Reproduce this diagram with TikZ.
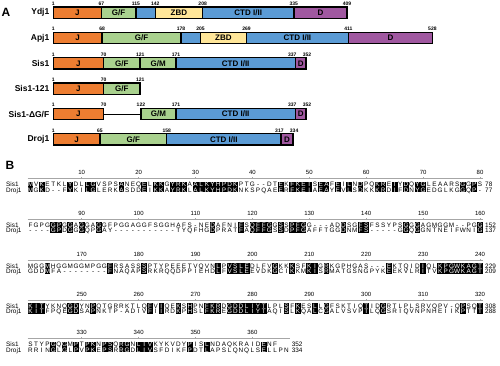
\documentclass[tikz,border=0pt]{standalone}
\usepackage{fontspec}
\setmainfont{Liberation Sans}
\usepackage{xstring}
\usetikzlibrary{calc}

\definecolor{jorange}{RGB}{237,125,49}
\definecolor{gfgreen}{RGB}{169,209,142}
\definecolor{zbdyellow}{RGB}{255,230,153}
\definecolor{ctdblue}{RGB}{91,155,213}
\definecolor{dpurple}{RGB}{160,88,160}

% one domain box: from, to, colour, label, row y
\newcommand{\domain}[5]{%
  \draw[dombox,fill=#3] ({53.3+0.718*#1},#5-5.75) rectangle ({53.3+0.718*#2},#5+5.75);
  \node[domlabel] at ({53.3+0.718*(#1+#2)/2},#5) {#4};%
}
% residue number above a boundary
\newcommand{\resnum}[3][0]{%
  \node[numlabel] at ({53.3+0.718*#2+#1},#3-9) {#2};%
}
% one alignment block: y, offset, columns, Sis1, Droj1, Sis1 end, Droj1 end
\def\gapchar{-}
\newcommand{\alnblock}[7]{%
  \draw[rulerline] (27.5,#1-6) -- ({33.5+(#3-1)*5.69},#1-6);
  \foreach \j in {10,20,...,#3} {
    \draw[rulerline] ({30.5+(\j-1)*5.69},#1-6) -- ++(0,-1.5);
    \pgfmathtruncatemacro{\lab}{#2+\j}
    \node[rulernum] at ({30.5+(\j-1)*5.69},#1-12) {\lab};
  }
  \node[seqname] at (6,#1) {Sis1};
  \node[seqname] at (6,#1+5.3) {Droj1};
  \foreach \c in {1,...,#3} {
    \StrChar{#4}{\c}[\ca]
    \StrChar{#5}{\c}[\cb]
    \pgfmathsetmacro{\cx}{30.5+(\c-1)*5.69}
    \def\hl{0}
    \ifx\ca\cb\ifx\ca\gapchar\else\def\hl{1}\fi\fi
    \ifnum\hl=1
      \fill[black] (\cx-2.845,#1-2.65) rectangle (\cx+2.845,#1+7.95);
      \node[res,text=white] at (\cx,#1) {\ca};
      \node[res,text=white] at (\cx,#1+5.3) {\cb};
    \else
      \node[res] at (\cx,#1) {\ca};
      \node[res] at (\cx,#1+5.3) {\cb};
    \fi
  }
  \node[seqnum] at ({30.5+(#3-1)*5.69+5},#1) {#6};
  \node[seqnum] at ({30.5+(#3-1)*5.69+5},#1+5.3) {#7};
}

\begin{document}
\begin{tikzpicture}[x=1pt,y=-1pt,
  protname/.style={anchor=east,inner sep=0pt,font=\fontsize{8.5}{10}\selectfont\bfseries},
  domlabel/.style={inner sep=0pt,font=\fontsize{8}{9}\selectfont\bfseries},
  numlabel/.style={inner sep=0pt,font=\fontsize{5}{5}\selectfont\bfseries},
  dombox/.style={draw=black,line width=1.4pt},
  panel/.style={inner sep=0pt,font=\fontsize{12}{12}\selectfont\bfseries},
  res/.style={inner sep=0pt,text height=4.6pt,text depth=0pt,font=\fontsize{6.4}{6.4}\selectfont},
  seqname/.style={res,anchor=west},
  seqnum/.style={res,anchor=west},
  rulerline/.style={draw=gray!70,line width=0.6pt},
  rulernum/.style={inner sep=0pt,font=\fontsize{6}{6}\selectfont}]

\useasboundingbox (0,0) rectangle (500,365);

% Panel A
\node[panel] (pa) at (6,12.5) {A};

% Ydj1
\node[protname] (ydj) at (49.5,12.7) {Ydj1};
\domain{0}{67}{jorange}{J}{12.7}
\domain{67}{115}{gfgreen}{G/F}{12.7}
\domain{115}{142}{ctdblue}{}{12.7}
\domain{142}{208}{zbdyellow}{ZBD}{12.7}
\domain{208}{335}{ctdblue}{CTD I/II}{12.7}
\domain{335}{409}{dpurple}{D}{12.7}
\node[numlabel] at (53.3,3.7) {1};
\foreach \n in {67,115,142,208,335,409} {\resnum{\n}{12.7}}

% Apj1
\node[protname] (apj) at (49.5,38) {Apj1};
\domain{0}{68}{jorange}{J}{38}
\domain{68}{178}{gfgreen}{G/F}{38}
\domain{178}{205}{ctdblue}{}{38}
\domain{205}{269}{zbdyellow}{ZBD}{38}
\domain{269}{411}{ctdblue}{CTD I/II}{38}
\domain{411}{528}{dpurple}{D}{38}
\node[numlabel] at (53.3,29) {1};
\foreach \n in {68,178,205,269,411,528} {\resnum{\n}{38}}

% Sis1
\node[protname] (sis) at (49.5,63.3) {Sis1};
\domain{0}{70}{jorange}{J}{63.3}
\domain{70}{121}{gfgreen}{G/F}{63.3}
\domain{121}{171}{gfgreen}{G/M}{63.3}
\domain{171}{337}{ctdblue}{CTD I/II}{63.3}
\domain{337}{352}{dpurple}{D}{63.3}
\node[numlabel] at (53.3,54.3) {1};
\foreach \n in {70,121,171} {\resnum{\n}{63.3}}
\resnum[-3]{337}{63.3}
\resnum[1]{352}{63.3}

% Sis1-121
\node[protname] (sist) at (49.5,88.7) {Sis1-121};
\domain{0}{70}{jorange}{J}{88.7}
\domain{70}{121}{gfgreen}{G/F}{88.7}
\node[numlabel] at (53.3,79.7) {1};
\foreach \n in {70,121} {\resnum{\n}{88.7}}

% Sis1-dGF
\node[protname] (sisd) at (49.5,114) {Sis1-ΔG/F};
\draw[line width=0.9pt] ({53.3+0.718*70},114) -- ({53.3+0.718*122},114);
\domain{0}{70}{jorange}{J}{114}
\domain{122}{171}{gfgreen}{G/M}{114}
\domain{171}{337}{ctdblue}{CTD I/II}{114}
\domain{337}{352}{dpurple}{D}{114}
\node[numlabel] at (53.3,105) {1};
\foreach \n in {70,122,171} {\resnum{\n}{114}}
\resnum[-3]{337}{114}
\resnum[1]{352}{114}

% Droj1
\node[protname] (droj) at (49.5,139.3) {Droj1};
\domain{0}{65}{jorange}{J}{139.3}
\domain{65}{158}{gfgreen}{G/F}{139.3}
\domain{158}{317}{ctdblue}{CTD I/II}{139.3}
\domain{317}{334}{dpurple}{D}{139.3}
\node[numlabel] at (53.3,130.3) {1};
\foreach \n in {65,158} {\resnum{\n}{139.3}}
\resnum[-1.5]{317}{139.3}
\resnum[1]{334}{139.3}

% Panel B
\node[panel] (pb) at (10,165) {B};

\alnblock{184.5}{0}{80}{MVKETKLYDLLGVSPSANEQELKKGYRKAALKYHPDKPTG--DTEKFKEISEAFEILNDPQKREIYDQYGLEAARSGGPS}{MGKD--FYKILGLERKASDDEIKKAYRKLALKYHPDKNKSPQAEERFKEIAEAYEVLSDKKKRDIFDNYGEDGLKGGQP-}{78}{77}
\alnblock{225}{80}{80}{FGPGGPGGAGGAGGFPGGAGGFSGGHAFS-NEDAFNIFSQFFGGSSPFGG---ADDSGFSFSSYPSGGGAGMGGM--PGG}{----GPDGGGQPGAY-----------TYQFHGDPRATFAQFFGSSDPFGAFFTGGDNMFS-----GGQGGNTNEIFWNIG}{152}{137}
\alnblock{266}{160}{80}{MGGMHGGMGGMPGGFRSASSSPTYPEEETVQVNLPVSLEDLFVGKKKSFKIGRKGPHGAS---EKTQIDIQLKPGWKAGT}{GDDMFA--------FNAQAPSRKRQQDPPIEHDLFVSLEEVDKGCIKKMKISRMATGSNGPYKEEKVLRITVKPGWKAGT}{229}{209}
\alnblock{306}{240}{80}{KITYKNQGDYNPQTGRRKTLQFVIQEKSHPNFKRDGDDLIYTLPLSFKESLLGFSKTIQTIDGRTLPLSRVQPV-QPSQT}{KITFPQEGDSAPNKTP-ADIVFIIRDKPHSLFKREGDDLIYTAQISLKQALCGALVSVPTLQGSRIQVNPNHEIIKPTTT}{308}{288}
\alnblock{344.5}{320}{46}{STYPGQGMPTPKNPSQRGNLIVKYKVDYPISLNDAQKRAIDENF}{RRINGLGLPVPKEPSRRGDLIVSFDIKFPDTLAPSLQNQLSELLPN}{352}{334}

\end{tikzpicture}
\end{document}
